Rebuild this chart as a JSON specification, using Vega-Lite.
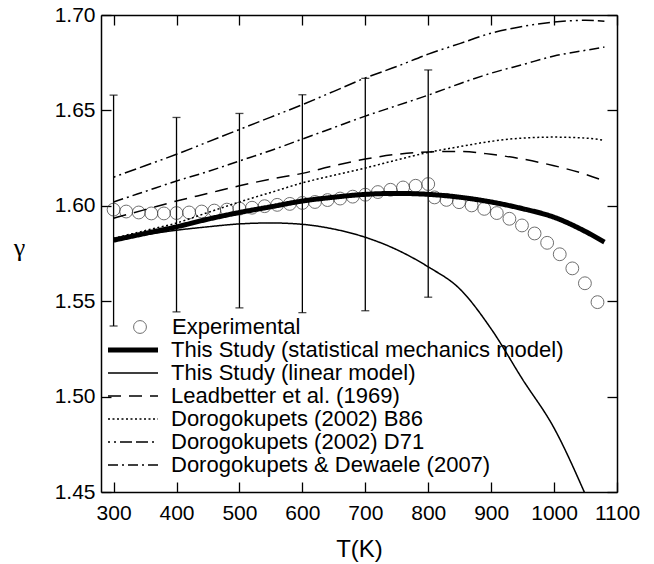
{
  "$schema": "https://vega.github.io/schema/vega-lite/v6.json",
  "width": 516,
  "height": 477,
  "autosize": {"type": "none"},
  "padding": {"left": 101, "top": 15, "right": 37, "bottom": 72},
  "background": "white",
  "config": {
    "view": {"stroke": null},
    "font": "Liberation Sans",
    "axis": {
      "domainColor": "black", "domainWidth": 1.5,
      "tickColor": "black", "tickWidth": 1.3, "tickSize": -10,
      "labelFont": "Liberation Sans", "labelFontSize": 21, "labelColor": "black",
      "titleColor": "black", "grid": false, "labelFlush": false, "labelOverlap": false
    },
    "legend": {
      "padding": 0,
      "labelFont": "Liberation Sans", "labelFontSize": 22, "labelColor": "black",
      "rowPadding": 1, "labelLimit": 600
    }
  },
  "datasets": {
    "curves": [
      {"series": "This Study (statistical mechanics model)", "T": 300, "g": 1.582},
      {"series": "This Study (statistical mechanics model)", "T": 350, "g": 1.5855},
      {"series": "This Study (statistical mechanics model)", "T": 400, "g": 1.589},
      {"series": "This Study (statistical mechanics model)", "T": 450, "g": 1.593},
      {"series": "This Study (statistical mechanics model)", "T": 500, "g": 1.5965},
      {"series": "This Study (statistical mechanics model)", "T": 550, "g": 1.5995},
      {"series": "This Study (statistical mechanics model)", "T": 600, "g": 1.6025},
      {"series": "This Study (statistical mechanics model)", "T": 650, "g": 1.6045},
      {"series": "This Study (statistical mechanics model)", "T": 700, "g": 1.606},
      {"series": "This Study (statistical mechanics model)", "T": 750, "g": 1.6065},
      {"series": "This Study (statistical mechanics model)", "T": 800, "g": 1.606},
      {"series": "This Study (statistical mechanics model)", "T": 850, "g": 1.6045},
      {"series": "This Study (statistical mechanics model)", "T": 900, "g": 1.602},
      {"series": "This Study (statistical mechanics model)", "T": 950, "g": 1.5985},
      {"series": "This Study (statistical mechanics model)", "T": 1000, "g": 1.594},
      {"series": "This Study (statistical mechanics model)", "T": 1050, "g": 1.5865},
      {"series": "This Study (statistical mechanics model)", "T": 1080, "g": 1.581},
      {"series": "This Study (linear model)", "T": 300, "g": 1.582},
      {"series": "This Study (linear model)", "T": 350, "g": 1.5848},
      {"series": "This Study (linear model)", "T": 400, "g": 1.5872},
      {"series": "This Study (linear model)", "T": 450, "g": 1.589},
      {"series": "This Study (linear model)", "T": 500, "g": 1.5905},
      {"series": "This Study (linear model)", "T": 550, "g": 1.591},
      {"series": "This Study (linear model)", "T": 600, "g": 1.5903},
      {"series": "This Study (linear model)", "T": 650, "g": 1.5878},
      {"series": "This Study (linear model)", "T": 700, "g": 1.5835},
      {"series": "This Study (linear model)", "T": 750, "g": 1.577},
      {"series": "This Study (linear model)", "T": 800, "g": 1.568},
      {"series": "This Study (linear model)", "T": 850, "g": 1.5565},
      {"series": "This Study (linear model)", "T": 900, "g": 1.5355},
      {"series": "This Study (linear model)", "T": 950, "g": 1.509},
      {"series": "This Study (linear model)", "T": 1000, "g": 1.4835},
      {"series": "This Study (linear model)", "T": 1050, "g": 1.4485},
      {"series": "Leadbetter et al. (1969)", "T": 300, "g": 1.5935},
      {"series": "Leadbetter et al. (1969)", "T": 350, "g": 1.598},
      {"series": "Leadbetter et al. (1969)", "T": 400, "g": 1.6025},
      {"series": "Leadbetter et al. (1969)", "T": 450, "g": 1.6065},
      {"series": "Leadbetter et al. (1969)", "T": 500, "g": 1.6105},
      {"series": "Leadbetter et al. (1969)", "T": 550, "g": 1.614},
      {"series": "Leadbetter et al. (1969)", "T": 600, "g": 1.617},
      {"series": "Leadbetter et al. (1969)", "T": 650, "g": 1.621},
      {"series": "Leadbetter et al. (1969)", "T": 700, "g": 1.6245},
      {"series": "Leadbetter et al. (1969)", "T": 750, "g": 1.627},
      {"series": "Leadbetter et al. (1969)", "T": 800, "g": 1.6282},
      {"series": "Leadbetter et al. (1969)", "T": 850, "g": 1.6285},
      {"series": "Leadbetter et al. (1969)", "T": 900, "g": 1.627},
      {"series": "Leadbetter et al. (1969)", "T": 950, "g": 1.6245},
      {"series": "Leadbetter et al. (1969)", "T": 1000, "g": 1.621},
      {"series": "Leadbetter et al. (1969)", "T": 1050, "g": 1.6165},
      {"series": "Leadbetter et al. (1969)", "T": 1080, "g": 1.613},
      {"series": "Dorogokupets (2002) B86", "T": 300, "g": 1.583},
      {"series": "Dorogokupets (2002) B86", "T": 350, "g": 1.587},
      {"series": "Dorogokupets (2002) B86", "T": 400, "g": 1.591},
      {"series": "Dorogokupets (2002) B86", "T": 450, "g": 1.5965},
      {"series": "Dorogokupets (2002) B86", "T": 500, "g": 1.602},
      {"series": "Dorogokupets (2002) B86", "T": 550, "g": 1.607},
      {"series": "Dorogokupets (2002) B86", "T": 600, "g": 1.612},
      {"series": "Dorogokupets (2002) B86", "T": 650, "g": 1.616},
      {"series": "Dorogokupets (2002) B86", "T": 700, "g": 1.6198},
      {"series": "Dorogokupets (2002) B86", "T": 750, "g": 1.624},
      {"series": "Dorogokupets (2002) B86", "T": 800, "g": 1.628},
      {"series": "Dorogokupets (2002) B86", "T": 850, "g": 1.631},
      {"series": "Dorogokupets (2002) B86", "T": 900, "g": 1.6338},
      {"series": "Dorogokupets (2002) B86", "T": 950, "g": 1.6355},
      {"series": "Dorogokupets (2002) B86", "T": 1000, "g": 1.636},
      {"series": "Dorogokupets (2002) B86", "T": 1050, "g": 1.6355},
      {"series": "Dorogokupets (2002) B86", "T": 1080, "g": 1.6343},
      {"series": "Dorogokupets (2002) D71", "T": 300, "g": 1.615},
      {"series": "Dorogokupets (2002) D71", "T": 350, "g": 1.621},
      {"series": "Dorogokupets (2002) D71", "T": 400, "g": 1.627},
      {"series": "Dorogokupets (2002) D71", "T": 450, "g": 1.6335},
      {"series": "Dorogokupets (2002) D71", "T": 500, "g": 1.64},
      {"series": "Dorogokupets (2002) D71", "T": 550, "g": 1.6465},
      {"series": "Dorogokupets (2002) D71", "T": 600, "g": 1.653},
      {"series": "Dorogokupets (2002) D71", "T": 650, "g": 1.66},
      {"series": "Dorogokupets (2002) D71", "T": 700, "g": 1.667},
      {"series": "Dorogokupets (2002) D71", "T": 750, "g": 1.673},
      {"series": "Dorogokupets (2002) D71", "T": 800, "g": 1.6795},
      {"series": "Dorogokupets (2002) D71", "T": 850, "g": 1.685},
      {"series": "Dorogokupets (2002) D71", "T": 900, "g": 1.6905},
      {"series": "Dorogokupets (2002) D71", "T": 950, "g": 1.694},
      {"series": "Dorogokupets (2002) D71", "T": 1000, "g": 1.6963},
      {"series": "Dorogokupets (2002) D71", "T": 1050, "g": 1.6972},
      {"series": "Dorogokupets (2002) D71", "T": 1080, "g": 1.6967},
      {"series": "Dorogokupets & Dewaele (2007)", "T": 300, "g": 1.602},
      {"series": "Dorogokupets & Dewaele (2007)", "T": 350, "g": 1.6075},
      {"series": "Dorogokupets & Dewaele (2007)", "T": 400, "g": 1.613},
      {"series": "Dorogokupets & Dewaele (2007)", "T": 450, "g": 1.618},
      {"series": "Dorogokupets & Dewaele (2007)", "T": 500, "g": 1.6235},
      {"series": "Dorogokupets & Dewaele (2007)", "T": 550, "g": 1.629},
      {"series": "Dorogokupets & Dewaele (2007)", "T": 600, "g": 1.635},
      {"series": "Dorogokupets & Dewaele (2007)", "T": 650, "g": 1.641},
      {"series": "Dorogokupets & Dewaele (2007)", "T": 700, "g": 1.647},
      {"series": "Dorogokupets & Dewaele (2007)", "T": 750, "g": 1.6525},
      {"series": "Dorogokupets & Dewaele (2007)", "T": 800, "g": 1.658},
      {"series": "Dorogokupets & Dewaele (2007)", "T": 850, "g": 1.664},
      {"series": "Dorogokupets & Dewaele (2007)", "T": 900, "g": 1.6695},
      {"series": "Dorogokupets & Dewaele (2007)", "T": 950, "g": 1.674},
      {"series": "Dorogokupets & Dewaele (2007)", "T": 1000, "g": 1.6785},
      {"series": "Dorogokupets & Dewaele (2007)", "T": 1050, "g": 1.6815},
      {"series": "Dorogokupets & Dewaele (2007)", "T": 1080, "g": 1.6832}
    ],
    "exp": [
      {"series": "Experimental", "T": 300, "g": 1.598}, {"series": "Experimental", "T": 320, "g": 1.597},
      {"series": "Experimental", "T": 340, "g": 1.5965}, {"series": "Experimental", "T": 360, "g": 1.596},
      {"series": "Experimental", "T": 380, "g": 1.596}, {"series": "Experimental", "T": 400, "g": 1.5962},
      {"series": "Experimental", "T": 420, "g": 1.5965}, {"series": "Experimental", "T": 440, "g": 1.597},
      {"series": "Experimental", "T": 460, "g": 1.5975}, {"series": "Experimental", "T": 480, "g": 1.598},
      {"series": "Experimental", "T": 500, "g": 1.5985}, {"series": "Experimental", "T": 520, "g": 1.599},
      {"series": "Experimental", "T": 540, "g": 1.5998}, {"series": "Experimental", "T": 560, "g": 1.6005},
      {"series": "Experimental", "T": 580, "g": 1.601}, {"series": "Experimental", "T": 600, "g": 1.6015},
      {"series": "Experimental", "T": 620, "g": 1.602}, {"series": "Experimental", "T": 640, "g": 1.603},
      {"series": "Experimental", "T": 660, "g": 1.6038}, {"series": "Experimental", "T": 680, "g": 1.6048},
      {"series": "Experimental", "T": 700, "g": 1.6058}, {"series": "Experimental", "T": 720, "g": 1.6072},
      {"series": "Experimental", "T": 740, "g": 1.6084}, {"series": "Experimental", "T": 760, "g": 1.6096},
      {"series": "Experimental", "T": 780, "g": 1.6105}, {"series": "Experimental", "T": 800, "g": 1.6114},
      {"series": "Experimental", "T": 810, "g": 1.6044}, {"series": "Experimental", "T": 829, "g": 1.6031},
      {"series": "Experimental", "T": 849, "g": 1.6019}, {"series": "Experimental", "T": 869, "g": 1.6002},
      {"series": "Experimental", "T": 889, "g": 1.5984}, {"series": "Experimental", "T": 909, "g": 1.5962},
      {"series": "Experimental", "T": 929, "g": 1.5932}, {"series": "Experimental", "T": 949, "g": 1.5897},
      {"series": "Experimental", "T": 969, "g": 1.5855}, {"series": "Experimental", "T": 989, "g": 1.5806},
      {"series": "Experimental", "T": 1009, "g": 1.5746}, {"series": "Experimental", "T": 1029, "g": 1.5672},
      {"series": "Experimental", "T": 1049, "g": 1.5594}, {"series": "Experimental", "T": 1069, "g": 1.5495}
    ],
    "err": [
      {"T": 300, "lo": 1.537, "hi": 1.658},
      {"T": 400, "lo": 1.5444, "hi": 1.6463},
      {"T": 500, "lo": 1.5465, "hi": 1.6484},
      {"T": 600, "lo": 1.544, "hi": 1.6582},
      {"T": 700, "lo": 1.545, "hi": 1.6668},
      {"T": 800, "lo": 1.5521, "hi": 1.6712}
    ]
  },
  "layer": [
    {
      "data": {"name": "err"},
      "mark": {"type": "rule", "color": "black", "strokeWidth": 1.3},
      "encoding": {
        "x": {"field": "T", "type": "quantitative",
              "scale": {"domain": [280, 1100], "nice": false, "zero": false},
              "axis": {"orient": "bottom", "values": [300, 400, 500, 600, 700, 800, 900, 1000, 1100], "format": "d",
                       "labelPadding": 20, "title": "T(K)", "titleFontSize": 24, "titleFontWeight": "normal", "titlePadding": 14}},
        "y": {"field": "lo", "type": "quantitative",
              "scale": {"domain": [1.45, 1.7], "nice": false, "zero": false},
              "axis": {"orient": "left", "values": [1.45, 1.5, 1.55, 1.6, 1.65, 1.7], "format": ".2f",
                       "labelPadding": 16, "title": "γ", "titleFont": "Liberation Serif", "titleFontSize": 26,
                       "titleFontWeight": "normal", "titleAngle": 0, "titleAlign": "center", "titleBaseline": "middle",
                       "titleX": -82, "titleY": 232}},
        "y2": {"field": "hi"}
      }
    },
    {
      "data": {"name": "err"},
      "mark": {"type": "point", "shape": "M-1,0H1", "size": 64, "filled": false, "stroke": "black", "strokeWidth": 1.3},
      "encoding": {
        "x": {"field": "T", "type": "quantitative", "axis": null},
        "y": {"field": "lo", "type": "quantitative", "axis": null}
      }
    },
    {
      "data": {"name": "err"},
      "mark": {"type": "point", "shape": "M-1,0H1", "size": 64, "filled": false, "stroke": "black", "strokeWidth": 1.3},
      "encoding": {
        "x": {"field": "T", "type": "quantitative", "axis": null},
        "y": {"field": "hi", "type": "quantitative", "axis": null}
      }
    },
    {
      "data": {"name": "exp"},
      "mark": {"type": "point", "size": 165, "filled": false, "color": "#333333", "stroke": "#333333", "strokeWidth": 1},
      "encoding": {
        "x": {"field": "T", "type": "quantitative", "axis": null},
        "y": {"field": "g", "type": "quantitative", "axis": null},
        "shape": {
          "field": "series", "type": "nominal",
          "scale": {"domain": ["Experimental"], "range": ["circle"]},
          "legend": {
            "title": null, "orient": "none", "legendX": 14, "legendY": 301,
            "symbolSize": 165, "symbolStrokeWidth": 1, "symbolStrokeColor": "#333333",
            "symbolFillColor": "transparent", "symbolOffset": 14, "labelOffset": 21
          }
        }
      }
    },
    {
      "data": {"name": "curves"},
      "mark": {"type": "line", "color": "black", "interpolate": "monotone", "clip": true},
      "encoding": {
        "x": {"field": "T", "type": "quantitative",
              "axis": {"orient": "top", "values": [300, 400, 500, 600, 700, 800, 900, 1000, 1100], "labels": false, "title": null}},
        "y": {"field": "g", "type": "quantitative",
              "axis": {"orient": "right", "values": [1.45, 1.5, 1.55, 1.6, 1.65, 1.7], "labels": false, "title": null}},
        "detail": {"field": "series"},
        "strokeDash": {
          "field": "series", "type": "nominal",
          "scale": {
            "domain": ["This Study (statistical mechanics model)", "This Study (linear model)", "Leadbetter et al. (1969)", "Dorogokupets (2002) B86", "Dorogokupets (2002) D71", "Dorogokupets & Dewaele (2007)"],
            "range": [[1, 0], [1, 0], [13, 8], [2, 2.5], [2, 4, 2, 4, 12, 4, 12, 4], [10, 4, 2, 4]]
          },
          "legend": {
            "title": null, "orient": "none", "legendX": 14, "legendY": 324,
            "symbolType": "M-10,0H10", "symbolSize": 25, "symbolOffset": 7, "labelOffset": 27,
            "symbolStrokeColor": "black"
          }
        },
        "strokeWidth": {
          "field": "series", "type": "nominal",
          "scale": {
            "type": "ordinal",
            "domain": ["This Study (statistical mechanics model)", "This Study (linear model)", "Leadbetter et al. (1969)", "Dorogokupets (2002) B86", "Dorogokupets (2002) D71", "Dorogokupets & Dewaele (2007)"],
            "range": [5, 1.5, 1.5, 1.5, 1.5, 1.5]
          },
          "legend": {
            "title": null, "orient": "none", "legendX": 14, "legendY": 324,
            "symbolType": "M-10,0H10", "symbolSize": 25, "symbolOffset": 7, "labelOffset": 27,
            "symbolStrokeColor": "black"
          }
        }
      }
    },
    {
      "mark": {"type": "text", "text": "0 Pressure", "align": "left", "baseline": "alphabetic", "fontSize": 22, "font": "Liberation Sans", "color": "black"},
      "encoding": {
        "x": {"datum": 308.6, "type": "quantitative", "axis": null},
        "y": {"datum": 1.6748, "type": "quantitative", "axis": null}
      }
    },
    {
      "mark": {"type": "rule", "color": "black", "strokeWidth": 1.5},
      "encoding": {
        "x": {"datum": 308.6, "type": "quantitative", "axis": null},
        "x2": {"datum": 483.5},
        "y": {"datum": 1.6727, "type": "quantitative", "axis": null}
      }
    }
  ],
  "resolve": {"axis": {"x": "independent", "y": "independent"}}
}
